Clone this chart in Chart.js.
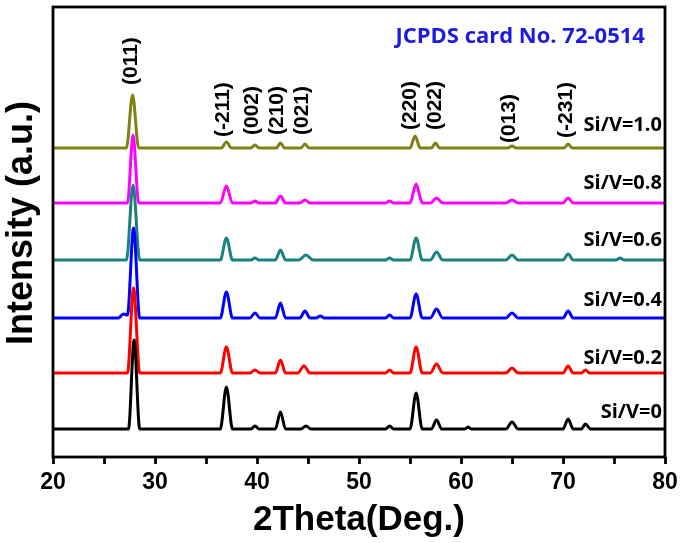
<!DOCTYPE html>
<html>
<head>
<meta charset="utf-8">
<script src="https://cdn.jsdelivr.net/npm/chart.js@4/dist/chart.umd.min.js"></script>
<style>
  body { margin: 0; background: #fff; }
  canvas { display: block; }
</style>
</head>
<body>
<canvas id="xrd" width="685" height="543"></canvas>
<script>
// sample names, bottom to top
const samples = ["Si/V=0", "Si/V=0.2", "Si/V=0.4", "Si/V=0.6", "Si/V=0.8", "Si/V=1.0"];
const colors = ["#000000", "#ff0000", "#0000ff", "#1a8080", "#ff00ff", "#808015"];
// vertical offset of each pattern (a.u.)
const offsets = [28, 84, 139, 197, 254, 309];
// where the name label sits (a.u.)
const labelY = [45, 99, 157, 217, 274, 332];

// [2theta, intensity above own baseline]
const si0 = [[20,0],[27.4,0],[27.95,89],[28.5,0],[36.4,0],[37.0,42],[37.6,0],[39.4,0],[39.8,3],[40.2,0],[41.8,0],[42.3,17],[42.8,0],[44.3,0],[44.8,3],[45.3,0],[52.6,0],[53.0,3],[53.4,0],[55.0,0],[55.6,36],[56.2,0],[57.1,0],[57.6,9],[58.1,0],[60.4,0],[60.7,2],[61.0,0],[64.4,0],[65.0,7],[65.6,0],[70.0,0],[70.5,10],[71.0,0],[71.8,0],[72.2,5],[72.7,0],[80,0]];
const si02 = [[20,0],[27.3,0],[27.9,85],[28.5,0],[36.4,0],[37.0,26],[37.6,0],[39.3,0],[39.8,3],[40.3,0],[41.8,0],[42.3,13],[42.8,0],[44.0,0],[44.6,7],[45.2,0],[52.6,0],[53.0,3],[53.4,0],[55.0,0],[55.6,26],[56.2,0],[57.0,0],[57.6,9],[58.2,0],[64.4,0],[65.0,5],[65.6,0],[70.0,0],[70.5,7],[71.0,0],[71.8,0],[72.2,3],[72.6,0],[80,0]];
const si04 = [[20,0],[26.4,0],[26.9,4],[27.3,3],[27.9,90],[28.5,0],[36.4,0],[37.0,26],[37.6,0],[39.3,0],[39.8,5],[40.3,0],[41.8,0],[42.3,15],[42.8,0],[44.2,0],[44.7,7],[45.2,0],[45.8,0],[46.2,2],[46.6,0],[52.6,0],[53.0,3],[53.4,0],[55.0,0],[55.6,24],[56.2,0],[57.0,0],[57.6,9],[58.2,0],[64.4,0],[65.0,5],[65.6,0],[70.0,0],[70.5,7],[71.0,0],[80,0]];
const si06 = [[20,0],[27.2,0],[27.85,75],[28.5,0],[36.4,0],[37.0,22],[37.6,0],[39.4,0],[39.8,2],[40.2,0],[41.8,0],[42.3,10],[42.8,0],[44.1,0],[44.8,5],[45.5,0],[52.6,0],[53.0,2],[53.4,0],[55.0,0],[55.6,22],[56.2,0],[57.0,0],[57.6,8],[58.2,0],[64.4,0],[65.0,5],[65.6,0],[70.0,0],[70.5,6],[71.0,0],[75.2,0],[75.6,2],[76.0,0],[80,0]];
const si08 = [[20,0],[27.3,0],[27.85,68],[28.4,0],[36.4,0],[37.0,17],[37.6,0],[39.4,0],[39.8,2],[40.2,0],[41.8,0],[42.3,7],[42.8,0],[44.2,0],[44.7,3],[45.2,0],[52.6,0],[53.0,2],[53.4,0],[55.0,0],[55.6,19],[56.2,0],[57.0,0],[57.6,5],[58.2,0],[64.4,0],[65.0,3],[65.6,0],[70.0,0],[70.5,5],[71.0,0],[80,0]];
const si10 = [[20,0],[27.2,0],[27.8,53],[28.4,0],[36.5,0],[37.0,6],[37.5,0],[39.4,0],[39.8,3],[40.2,0],[41.9,0],[42.3,5],[42.7,0],[44.3,0],[44.7,4],[45.1,0],[55.0,0],[55.5,12],[56.0,0],[57.1,0],[57.5,5],[57.9,0],[64.6,0],[65.0,2],[65.4,0],[70.1,0],[70.5,4],[70.9,0],[80,0]];
const patterns = [si0, si02, si04, si06, si08, si10];
// draw order, lower = on top
const drawOrder = [1, 2, 3, 4, 5, 0];

// Miller indices printed above the top pattern
const hklNames = ["(011)", "(-211)", "(002)", "(210)", "(021)", "(220)", "(022)", "(013)", "(-231)"];
const hklX = [27.7, 36.7, 39.5, 42.0, 44.4, 55.0, 57.5, 64.7, 70.3];
const hklY = [372, 320, 322, 322, 322, 327, 327, 314, 319];

const cardText = "JCPDS card No. 72-0514";
const yTitle = "Intensity (a.u.)";

const datasets = patterns.map((pts, i) => ({
  label: samples[i],
  data: pts.map(p => ({ x: p[0], y: p[1] + offsets[i] })),
  borderColor: colors[i],
  borderWidth: 3,
  pointRadius: 0,
  fill: false,
  cubicInterpolationMode: "monotone",
  order: drawOrder[i]
}));

const textPlugin = {
  id: "xrdText",
  afterDatasetsDraw(chart) {
    const { ctx, chartArea } = chart;
    const xs = chart.scales.x, ys = chart.scales.y;
    ctx.save();
    // frame
    ctx.strokeStyle = "#000";
    ctx.lineWidth = 2.8;
    ctx.strokeRect(chartArea.left, chartArea.top, chartArea.right - chartArea.left, chartArea.bottom - chartArea.top);

    // y title
    ctx.fillStyle = "#000";
    ctx.font = "bold 36px 'Liberation Sans', Arial, sans-serif";
    ctx.textAlign = "center";
    ctx.textBaseline = "middle";
    ctx.save();
    ctx.translate(22, 223);
    ctx.rotate(-Math.PI / 2);
    ctx.fillText(yTitle, 0, 0);
    ctx.restore();

    // peak indices, rotated
    ctx.font = "bold 21px 'Liberation Sans', Arial, sans-serif";
    ctx.textAlign = "left";
    hklNames.forEach((t, i) => {
      ctx.save();
      ctx.translate(xs.getPixelForValue(hklX[i]), ys.getPixelForValue(hklY[i]));
      ctx.rotate(-Math.PI / 2);
      ctx.fillText(t, 0, 0);
      ctx.restore();
    });

    // sample names
    ctx.font = "bold 20px 'Open Sans', sans-serif";
    ctx.textAlign = "right";
    samples.forEach((s, i) => {
      ctx.fillText(s, xs.getPixelForValue(79.7), ys.getPixelForValue(labelY[i]));
    });

    ctx.fillStyle = "#1c1ce0";
    ctx.font = "bold 22px 'Open Sans', sans-serif";
    ctx.textAlign = "center";
    ctx.fillText(cardText, xs.getPixelForValue(65.8), ys.getPixelForValue(420));
    ctx.restore();
  }
};

new Chart(document.getElementById("xrd"), {
  type: "line",
  data: { datasets },
  options: {
    responsive: false,
    animation: false,
    layout: { padding: { top: 7, right: 20, left: 0, bottom: 0 } },
    plugins: { legend: { display: false }, tooltip: { enabled: false } },
    scales: {
      x: {
        type: "linear",
        min: 20,
        max: 80,
        afterFit: s => { s.height = 86; },
        border: { display: false },
        grid: { drawOnChartArea: false, drawTicks: true, tickLength: 7, tickWidth: 2.8, tickColor: "#000" },
        ticks: {
          stepSize: 5,
          padding: 5,
          color: "#000",
          font: { family: "'Liberation Sans', Arial, sans-serif", size: 23, weight: "bold" },
          callback: v => (v % 10 === 0 ? v : "")
        },
        title: {
          display: true,
          text: "2Theta(Deg.)",
          color: "#000",
          font: { family: "'Liberation Sans', Arial, sans-serif", size: 35, weight: "bold" },
          padding: { top: 0, bottom: 2 }
        }
      },
      y: {
        min: 0,
        max: 450,
        afterFit: s => { s.width = 53; },
        border: { display: false },
        grid: { display: false },
        ticks: { display: false },
        title: { display: false }
      }
    }
  },
  plugins: [textPlugin]
});
</script>
</body>
</html>
